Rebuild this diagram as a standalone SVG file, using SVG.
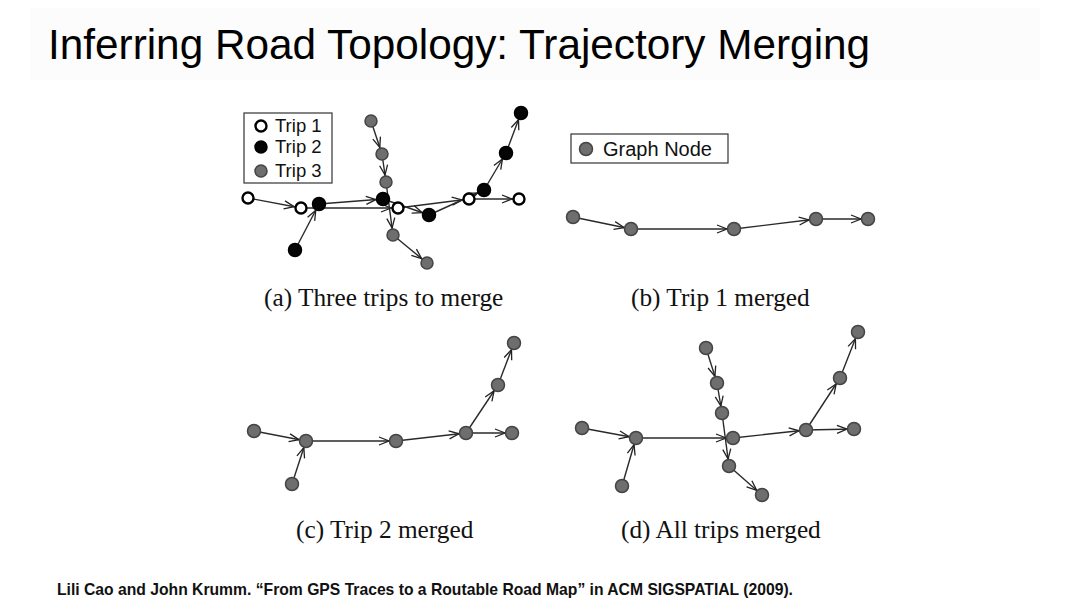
<svg xmlns="http://www.w3.org/2000/svg" width="1080" height="608" viewBox="0 0 1080 608">
<defs>
<marker id="arr" markerUnits="userSpaceOnUse" markerWidth="20" markerHeight="10" refX="17" refY="4" orient="auto" overflow="visible">
<path d="M0,0 L10,4 L0,8" fill="none" stroke="#222" stroke-width="1.3"/>
</marker>
<style>
.e{stroke:#2a2a2a;stroke-width:1.4;fill:none;marker-end:url(#arr)}
.g{fill:#6e6e6e;stroke:#444;stroke-width:1.5}
.b{fill:#050505;stroke:#000;stroke-width:1.5}
.o{fill:#fff;stroke:#000;stroke-width:2.4}
.cap{font-family:"Liberation Serif","Times New Roman",serif;font-size:25.3px;fill:#111}
.lg{font-family:"Liberation Sans",Arial,sans-serif;fill:#111}
.box{fill:#fff;stroke:#333;stroke-width:1.2}
</style>
</defs>
<rect width="1080" height="608" fill="#fff"/>
<rect x="30" y="8" width="1010" height="72" fill="#fcfcfc"/>
<text x="48" y="59" font-family="'Liberation Sans',Arial,sans-serif" font-size="42.3" fill="#000">Inferring Road Topology: Trajectory Merging</text>

<g id="legend-a">
<rect class="box" x="244" y="113" width="88" height="70"/>
<circle class="o" cx="261" cy="126" r="5.5"/>
<circle class="b" cx="261" cy="147" r="6"/>
<circle class="g" cx="261" cy="171" r="6"/>
<text class="lg" x="275" y="132" font-size="18.5">Trip 1</text>
<text class="lg" x="275" y="153" font-size="18.5">Trip 2</text>
<text class="lg" x="275" y="177" font-size="18.5">Trip 3</text>
</g>
<g id="legend-b">
<rect class="box" x="571" y="134" width="157" height="29"/>
<circle class="g" cx="586" cy="149" r="6.5"/>
<text class="lg" x="603" y="156" font-size="20">Graph Node</text>
</g>

<g id="connectors">
<line class="e" x1="248" y1="198" x2="301" y2="208"/>
<line class="e" x1="301" y1="208" x2="398" y2="208"/>
<line class="e" x1="398" y1="208" x2="469" y2="199"/>
<line class="e" x1="469" y1="199" x2="519" y2="199"/>
<line class="e" x1="295" y1="250" x2="319" y2="204"/>
<line class="e" x1="319" y1="204" x2="383" y2="199"/>
<line class="e" x1="383" y1="199" x2="429" y2="215"/>
<line class="e" x1="429" y1="215" x2="484" y2="190"/>
<line class="e" x1="484" y1="190" x2="506" y2="153"/>
<line class="e" x1="506" y1="153" x2="521" y2="113"/>
<line class="e" x1="371" y1="121" x2="382" y2="154"/>
<line class="e" x1="382" y1="154" x2="386" y2="182"/>
<line class="e" x1="386" y1="182" x2="393" y2="235"/>
<line class="e" x1="393" y1="235" x2="427" y2="263"/>
<line class="e" x1="573" y1="217" x2="631" y2="229"/>
<line class="e" x1="631" y1="229" x2="734" y2="229"/>
<line class="e" x1="734" y1="229" x2="816" y2="219"/>
<line class="e" x1="816" y1="219" x2="868" y2="219"/>
<line class="e" x1="254" y1="431" x2="306" y2="441"/>
<line class="e" x1="292" y1="484" x2="306" y2="441"/>
<line class="e" x1="306" y1="441" x2="396" y2="441"/>
<line class="e" x1="396" y1="441" x2="466" y2="433"/>
<line class="e" x1="466" y1="433" x2="512" y2="433"/>
<line class="e" x1="466" y1="433" x2="498" y2="385"/>
<line class="e" x1="498" y1="385" x2="514" y2="343"/>
<line class="e" x1="582" y1="428" x2="636" y2="438"/>
<line class="e" x1="622" y1="486" x2="636" y2="438"/>
<line class="e" x1="636" y1="438" x2="733" y2="438"/>
<line class="e" x1="733" y1="438" x2="806" y2="430"/>
<line class="e" x1="806" y1="430" x2="854" y2="429"/>
<line class="e" x1="806" y1="430" x2="840" y2="378"/>
<line class="e" x1="840" y1="378" x2="858" y2="332"/>
<line class="e" x1="706" y1="348" x2="717" y2="383"/>
<line class="e" x1="717" y1="383" x2="722" y2="413"/>
<line class="e" x1="722" y1="413" x2="729" y2="466"/>
<line class="e" x1="729" y1="466" x2="762" y2="495"/>
</g>

<g id="panel-a-nodes">
<circle id="a1" class="o" cx="248" cy="198" r="5.5"/>
<circle id="a2" class="o" cx="301" cy="208" r="5.5"/>
<circle id="a3" class="o" cx="398" cy="208" r="5.5"/>
<circle id="a4" class="o" cx="469" cy="199" r="5.5"/>
<circle id="a5" class="o" cx="519" cy="199" r="5.5"/>
<circle id="c1" class="g" cx="371" cy="121" r="6"/>
<circle id="c2" class="g" cx="382" cy="154" r="6"/>
<circle id="c3" class="g" cx="386" cy="182" r="6"/>
<circle id="c4" class="g" cx="393" cy="235" r="6"/>
<circle id="c5" class="g" cx="427" cy="263" r="6"/>
<circle id="b1" class="b" cx="295" cy="250" r="6.5"/>
<circle id="b2" class="b" cx="319" cy="204" r="6.5"/>
<circle id="b3" class="b" cx="383" cy="199" r="6.5"/>
<circle id="b4" class="b" cx="429" cy="215" r="6.5"/>
<circle id="b5" class="b" cx="484" cy="190" r="6.5"/>
<circle id="b6" class="b" cx="506" cy="153" r="6.5"/>
<circle id="b7" class="b" cx="521" cy="113" r="6.5"/>
</g>
<g id="panel-b-nodes">
<circle class="g" cx="573" cy="217" r="6.5"/>
<circle class="g" cx="631" cy="229" r="6.5"/>
<circle class="g" cx="734" cy="229" r="6.5"/>
<circle class="g" cx="816" cy="219" r="6.5"/>
<circle class="g" cx="868" cy="219" r="6.5"/>
</g>
<g id="panel-c-nodes">
<circle class="g" cx="254" cy="431" r="6.5"/>
<circle class="g" cx="306" cy="441" r="6.5"/>
<circle class="g" cx="292" cy="484" r="6.5"/>
<circle class="g" cx="396" cy="441" r="6.5"/>
<circle class="g" cx="466" cy="433" r="6.5"/>
<circle class="g" cx="512" cy="433" r="6.5"/>
<circle class="g" cx="498" cy="385" r="6.5"/>
<circle class="g" cx="514" cy="343" r="6.5"/>
</g>
<g id="panel-d-nodes">
<circle class="g" cx="582" cy="428" r="6.5"/>
<circle class="g" cx="636" cy="438" r="6.5"/>
<circle class="g" cx="622" cy="486" r="6.5"/>
<circle class="g" cx="733" cy="438" r="6.5"/>
<circle class="g" cx="806" cy="430" r="6.5"/>
<circle class="g" cx="854" cy="429" r="6.5"/>
<circle class="g" cx="840" cy="378" r="6.5"/>
<circle class="g" cx="858" cy="332" r="6.5"/>
<circle class="g" cx="706" cy="348" r="6.5"/>
<circle class="g" cx="717" cy="383" r="6.5"/>
<circle class="g" cx="722" cy="413" r="6.5"/>
<circle class="g" cx="729" cy="466" r="6.5"/>
<circle class="g" cx="762" cy="495" r="6.5"/>
</g>

<g id="captions">
<text class="cap" x="264" y="306">(a) Three trips to merge</text>
<text class="cap" x="631" y="306">(b) Trip 1 merged</text>
<text class="cap" x="296" y="538">(c) Trip 2 merged</text>
<text class="cap" x="621" y="538">(d) All trips merged</text>
</g>
<text x="57" y="595" font-family="'Liberation Sans',Arial,sans-serif" font-size="15.7" font-weight="bold" fill="#111">Lili Cao and John Krumm. “From GPS Traces to a Routable Road Map” in ACM SIGSPATIAL (2009).</text>
</svg>
